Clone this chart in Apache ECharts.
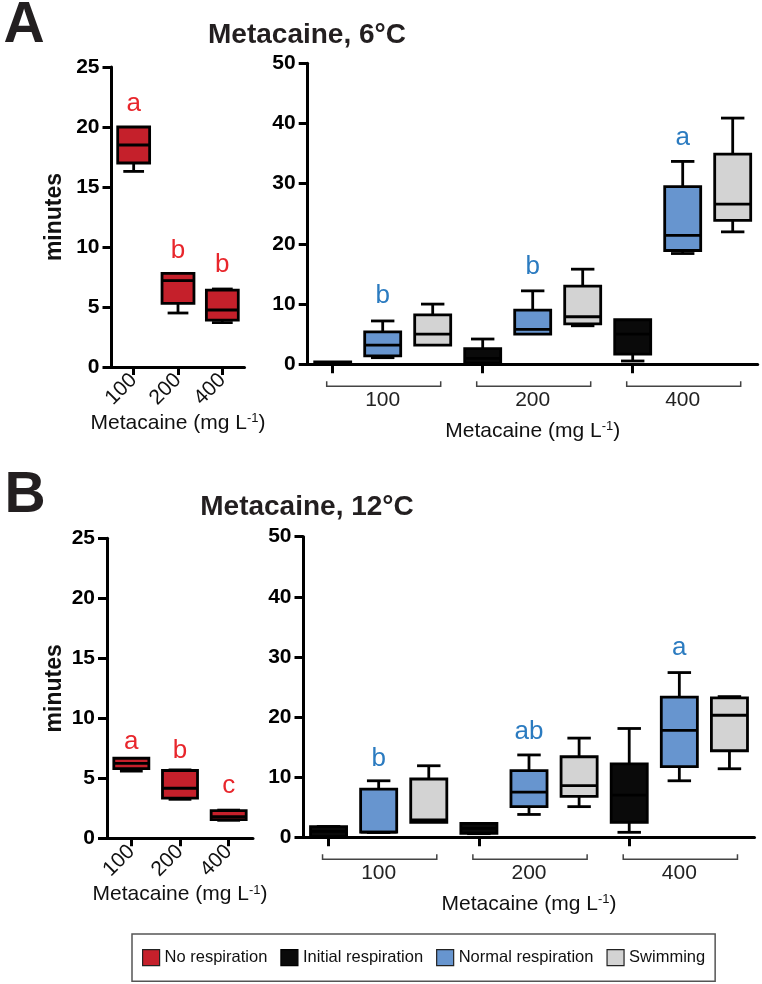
<!DOCTYPE html>
<html><head><meta charset="utf-8">
<script src="https://cdn.jsdelivr.net/npm/echarts@6/dist/echarts.min.js"></script>
<style>html,body{margin:0;padding:0;background:#fff}#c{width:762px;height:984px}</style>
</head><body><div id="c"></div>
<script>
const FONT = '"Liberation Sans", Arial, Helvetica, sans-serif';

// ---------- data ----------
const doses = ['100', '200', '400'];
const rightCats = ['100 Initial', '100 Normal', '100 Swimming',
                   '200 Initial', '200 Normal', '200 Swimming',
                   '400 Initial', '400 Normal', '400 Swimming'];
const groupLabels = ['100', '200', '400'];
const groupRanges = [[0, 2], [3, 5], [6, 8]];

// each box: [min, Q1, median, Q3, max]  (minutes)
const noResp6  = [[16.3, 17.0, 18.5, 20.0, 20.0], [4.5, 5.3, 7.2, 7.8, 7.8], [3.7, 3.9, 4.75, 6.4, 6.5]];
const init6    = [[0.1, 0.15, 0.25, 0.4, 0.4], [0.0, 0.2, 1.0, 2.6, 4.2], [0.55, 1.7, 5.0, 7.4, 7.4]];
const normal6  = [[1.1, 1.4, 3.2, 5.4, 7.2], [5.0, 5.0, 5.8, 9.0, 12.2], [18.4, 18.9, 21.4, 29.5, 33.7]];
const swim6    = [[3.2, 3.2, 5.0, 8.2, 10.0], [6.4, 6.7, 7.9, 13.0, 15.8], [22.0, 23.9, 26.6, 34.9, 40.9]];

const noResp12 = [[5.6, 5.8, 6.25, 6.67, 6.67], [3.25, 3.35, 4.17, 5.65, 5.7], [1.5, 1.55, 1.8, 2.3, 2.35]];
const init12   = [[0.0, 0.1, 1.0, 1.77, 1.8], [0.6, 0.67, 1.5, 2.3, 2.3], [0.83, 2.5, 7.0, 12.2, 18.1]];
const normal12 = [[0.8, 0.85, 0.85, 8.0, 9.4], [3.8, 5.1, 7.5, 11.1, 13.7], [9.4, 11.75, 17.8, 23.3, 27.4]];
const swim12   = [[2.5, 2.5, 2.9, 9.7, 11.9], [5.1, 6.8, 8.6, 13.4, 16.5], [11.4, 14.4, 20.3, 23.2, 23.4]];

// significance letters and the value (minutes) at which each is centred
const letters6Left   = ['a', 'b', 'b'];  const letterAt6Left   = [21.9, 9.7, 8.5];
const letters6Right  = ['b', 'b', 'a'];  const letterAt6Right  = [11.3, 16.2, 37.6];
const letters12Left  = ['a', 'b', 'c'];  const letterAt12Left  = [8.05, 7.33, 4.36];
const letters12Right = ['b', 'ab', 'a']; const letterAt12Right = [13.0, 17.6, 31.5];

// ---------- styles ----------
const RED = '#c5202b', BLACK = '#0a0a0a', BLUE = '#6795cf', GRAY = '#d3d3d3';
const LETTER_RED = '#e8262c', LETTER_BLUE = '#2b7bc0';

function rowsAt(boxes, offset, step) {
  return boxes.map((b, i) => [i * step + offset].concat(b));
}

function boxRender(fill, frac, letters, letterAt, letterColor) {
  return function (params, api) {
    const x = api.value(0);
    const vmin = api.value(1), q1 = api.value(2), med = api.value(3), q3 = api.value(4), vmax = api.value(5);
    const band = api.size([1, 0])[0];
    const w = band * frac, cw = w * 0.65;
    const pMin = api.coord([x, vmin]), pQ1 = api.coord([x, q1]), pMed = api.coord([x, med]),
          pQ3 = api.coord([x, q3]), pMax = api.coord([x, vmax]);
    const cx = pMed[0];
    const ls = { stroke: '#000', lineWidth: 2.8, fill: 'none' };
    const ch = [];
    if (vmax > q3) {
      ch.push({ type: 'line', shape: { x1: cx, y1: pQ3[1], x2: cx, y2: pMax[1] }, style: ls });
      ch.push({ type: 'line', shape: { x1: cx - cw / 2, y1: pMax[1], x2: cx + cw / 2, y2: pMax[1] }, style: ls });
    }
    if (vmin < q1) {
      ch.push({ type: 'line', shape: { x1: cx, y1: pQ1[1], x2: cx, y2: pMin[1] }, style: ls });
      ch.push({ type: 'line', shape: { x1: cx - cw / 2, y1: pMin[1], x2: cx + cw / 2, y2: pMin[1] }, style: ls });
    }
    ch.push({ type: 'rect', shape: { x: cx - w / 2, y: pQ3[1], width: w, height: Math.max(pQ1[1] - pQ3[1], 1.5) },
              style: { fill: fill, stroke: '#000', lineWidth: 2.8 } });
    ch.push({ type: 'line', shape: { x1: cx - w / 2, y1: pMed[1], x2: cx + w / 2, y2: pMed[1] }, style: ls });
    if (letters) {
      const pl = api.coord([x, letterAt[params.dataIndex]]);
      ch.push({ type: 'text', x: cx, y: pl[1],
                style: { text: letters[params.dataIndex], fill: letterColor, fontSize: 26, fontFamily: FONT,
                         align: 'center', verticalAlign: 'middle' } });
    }
    return { type: 'group', children: ch };
  };
}

function bracketRender(labels) {
  return function (params, api) {
    const s = api.value(0), e = api.value(1);
    const band = api.size([1, 0])[0];
    const p0 = api.coord([s, 0]), p1 = api.coord([e, 0]);
    const y = p0[1] + 22;
    const x0 = p0[0] - band * 0.12, x1 = p1[0] + band * 0.16;
    return { type: 'group', children: [
      { type: 'polyline', shape: { points: [[x0, y - 5], [x0, y], [x1, y], [x1, y - 5]] },
        style: { stroke: '#444', lineWidth: 1.5, fill: 'none' } },
      { type: 'text', x: (p0[0] + p1[0]) / 2, y: y + 14,
        style: { text: labels[params.dataIndex], fill: '#222', fontSize: 21, fontFamily: FONT,
                 align: 'center', verticalAlign: 'middle' } }
    ] };
  };
}

function boxSeries(name, fill, xi, rows, frac, letters, letterAt, letterColor) {
  return {
    type: 'custom', name: name, xAxisIndex: xi, yAxisIndex: xi, clip: false,
    itemStyle: { color: fill, borderColor: '#000', borderWidth: 1 },
    encode: { x: 0, y: [1, 2, 3, 4, 5] },
    data: rows,
    renderItem: boxRender(fill, frac, letters, letterAt, letterColor)
  };
}
function bracketSeries(xi) {
  return {
    type: 'custom', name: 'dose groups', xAxisIndex: xi, yAxisIndex: xi, clip: false, silent: true,
    encode: { x: [0, 1], y: 2 },
    data: groupRanges.map(r => [r[0], r[1], 0]),
    renderItem: bracketRender(groupLabels)
  };
}

const axisLine = { show: true, lineStyle: { color: '#000', width: 3 } };
const xNameStyle = { fontSize: 21, color: '#111', fontFamily: FONT,
  rich: { sup: { fontSize: 13, color: '#111', fontFamily: FONT, verticalAlign: 'top' } } };
const xName = 'Metacaine (mg L{sup|-1})';

function yAxis(gi, max, interval, withName, gap) {
  return {
    type: 'value', gridIndex: gi, min: 0, max: max, interval: interval,
    axisLine: axisLine,
    axisTick: { show: true, length: 9, lineStyle: { color: '#000', width: 3 } },
    splitLine: { show: false },
    axisLabel: { fontSize: 21, fontWeight: 'bold', color: '#000', fontFamily: FONT, margin: 12 },
    name: withName ? 'minutes' : '', nameLocation: 'middle', nameGap: gap,
    nameTextStyle: { fontSize: 23, fontWeight: 'bold', color: '#111', fontFamily: FONT }
  };
}
function xLeft(gi, gap) {
  return {
    type: 'category', gridIndex: gi, data: doses,
    axisLine: axisLine,
    axisTick: { show: true, alignWithLabel: true, length: 8, lineStyle: { color: '#000', width: 3 } },
    axisLabel: { rotate: 45, fontSize: 21, color: '#111', fontFamily: FONT, margin: 10 },
    name: xName, nameLocation: 'middle', nameGap: gap, nameTextStyle: xNameStyle
  };
}
function xRight(gi, gap) {
  return {
    type: 'category', gridIndex: gi, data: rightCats,
    axisLine: axisLine,
    axisTick: { show: true, alignWithLabel: true, length: 9, lineStyle: { color: '#000', width: 3 } },
    axisLabel: { show: false },
    name: xName, nameLocation: 'middle', nameGap: gap, nameTextStyle: xNameStyle
  };
}

const FR = 0.72;
const option = {
  animation: false,
  backgroundColor: '#fff',
  textStyle: { fontFamily: FONT },
  grid: [
    { left: 111.5, top: 67, width: 133, height: 300, outerBoundsMode: 'none' },
    { left: 307.7, top: 63.3, width: 450, height: 301, outerBoundsMode: 'none' },
    { left: 107, top: 538.3, width: 146, height: 300, outerBoundsMode: 'none' },
    { left: 303.5, top: 536.7, width: 451, height: 300.6, outerBoundsMode: 'none' }
  ],
  xAxis: [xLeft(0, 42), xRight(1, 56), xLeft(2, 42), xRight(3, 56)],
  yAxis: [yAxis(0, 25, 5, true, 45), yAxis(1, 50, 10, false, 0), yAxis(2, 25, 5, true, 41), yAxis(3, 50, 10, false, 0)],
  legend: {
    left: 132, top: 934, padding: [15, 10], itemGap: 13, itemWidth: 17, itemHeight: 16,
    borderColor: '#555', borderWidth: 1.5, icon: 'rect', selectedMode: false,
    textStyle: { fontSize: 16.5, color: '#111', fontFamily: FONT },
    data: [
      { name: 'No respiration', itemStyle: { color: RED, borderColor: '#222', borderWidth: 1.2 } },
      { name: 'Initial respiration', itemStyle: { color: BLACK, borderColor: '#000', borderWidth: 1.2 } },
      { name: 'Normal respiration', itemStyle: { color: BLUE, borderColor: '#222', borderWidth: 1.2 } },
      { name: 'Swimming', itemStyle: { color: GRAY, borderColor: '#222', borderWidth: 1.2 } }
    ]
  },
  graphic: [
    { type: 'text', x: 24, y: 26, style: { text: 'A', font: 'bold 57px ' + FONT, fill: '#231f20', align: 'center', verticalAlign: 'middle' } },
    { type: 'text', x: 307, y: 35, style: { text: 'Metacaine, 6°C', font: 'bold 28px ' + FONT, fill: '#231f20', align: 'center', verticalAlign: 'middle' } },
    { type: 'text', x: 25, y: 496, style: { text: 'B', font: 'bold 57px ' + FONT, fill: '#231f20', align: 'center', verticalAlign: 'middle' } },
    { type: 'text', x: 307, y: 507, style: { text: 'Metacaine, 12°C', font: 'bold 28px ' + FONT, fill: '#231f20', align: 'center', verticalAlign: 'middle' } }
  ],
  series: [
    boxSeries('No respiration', RED, 0, rowsAt(noResp6, 0, 1), FR, letters6Left, letterAt6Left, LETTER_RED),
    boxSeries('Initial respiration', BLACK, 1, rowsAt(init6, 0, 3), FR),
    boxSeries('Normal respiration', BLUE, 1, rowsAt(normal6, 1, 3), FR, letters6Right, letterAt6Right, LETTER_BLUE),
    boxSeries('Swimming', GRAY, 1, rowsAt(swim6, 2, 3), FR),
    bracketSeries(1),
    boxSeries('No respiration', RED, 2, rowsAt(noResp12, 0, 1), FR, letters12Left, letterAt12Left, LETTER_RED),
    boxSeries('Initial respiration', BLACK, 3, rowsAt(init12, 0, 3), FR),
    boxSeries('Normal respiration', BLUE, 3, rowsAt(normal12, 1, 3), FR, letters12Right, letterAt12Right, LETTER_BLUE),
    boxSeries('Swimming', GRAY, 3, rowsAt(swim12, 2, 3), FR),
    bracketSeries(3)
  ]
};

const chart = echarts.init(document.getElementById('c'), null, { renderer: 'canvas' });
chart.setOption(option);
</script>
</body></html>
